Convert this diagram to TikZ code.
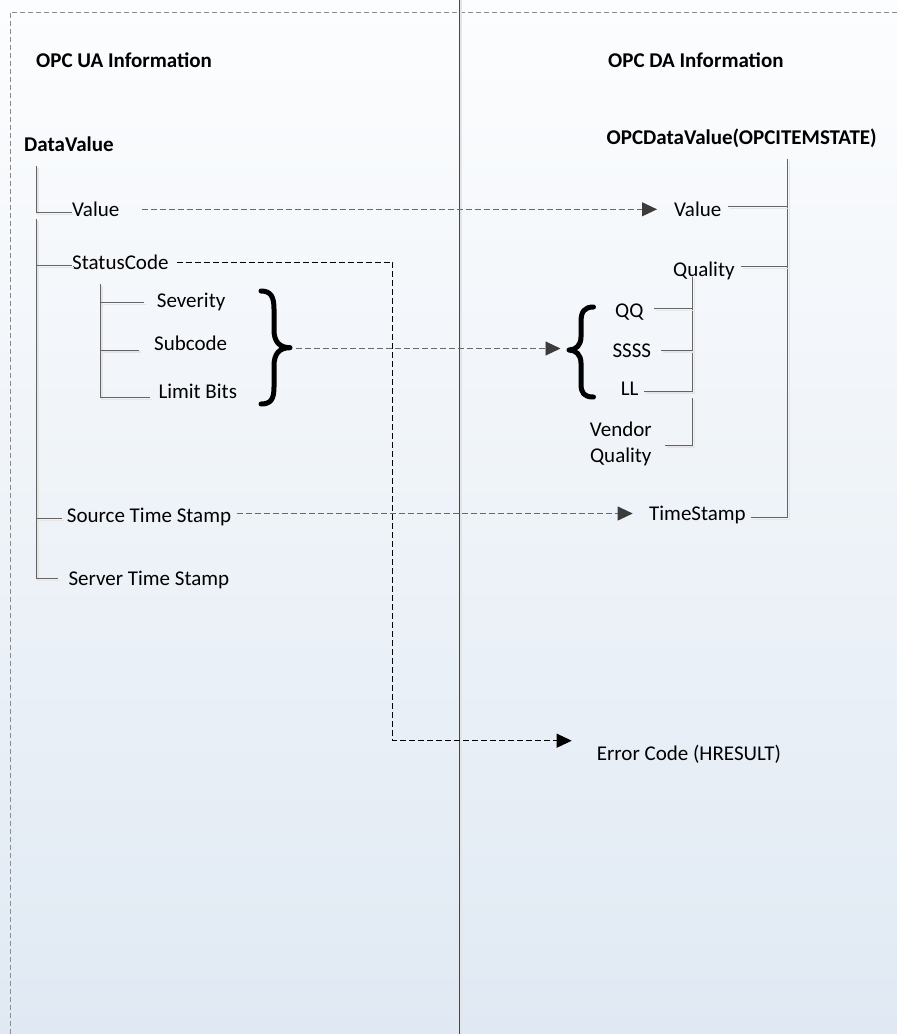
\documentclass[tikz,border=0pt]{standalone}
\usepackage{fontspec}
\setmainfont{Carlito}
\usetikzlibrary{arrows.meta}
\definecolor{bgtop}{RGB}{252,253,254}
\definecolor{bgbot}{RGB}{224,233,243}
\definecolor{treegray}{RGB}{100,100,100}
\definecolor{dashgray}{RGB}{105,105,105}
\definecolor{tipgray}{RGB}{60,60,60}
\begin{document}
\begin{tikzpicture}[x=1pt,y=-1pt,
  txt/.style={anchor=base west, inner sep=0pt, font=\fontsize{21}{25.3}\selectfont},
  btxt/.style={anchor=base west, inner sep=0pt, font=\fontsize{21}{25.3}\selectfont\bfseries},
  treeline/.style={draw=treegray, line width=1pt,
     preaction={draw=black!10, line width=1.3pt, transform canvas={shift={(2pt,-2pt)}}}},
  flow/.style={draw=dashgray, line width=0.9pt, dash pattern=on 6pt off 3pt,
     -{Triangle[length=15pt,width=14pt,color=tipgray,fill=tipgray]}},
  flowblack/.style={draw=black, line width=0.9pt, dash pattern=on 6pt off 3pt,
     -{Triangle[length=15pt,width=14pt,color=black,fill=black]}},
  bracestyle/.style={draw=black, line width=5pt, line cap=round, line join=round},
  borderline/.style={draw=black!45, line width=0.8pt, dash pattern=on 5pt off 3pt},
  divider/.style={draw=black!72, line width=0.9pt,
     preaction={draw=black!10, line width=1.3pt, transform canvas={shift={(2pt,0pt)}}}}
]
\useasboundingbox (0,0) rectangle (897,1034);
\shade[top color=bgtop, bottom color=bgbot] (0,0) rectangle (897,1034);

% frame and divider
\coordinate (bdB) at (10,1034);
\coordinate (bdC) at (10,12);
\coordinate (bdR) at (897,12);
\draw[borderline] (bdB) -- (bdC) -- (bdR);
\coordinate (divT) at (459,0);
\coordinate (divB) at (459,1034);
\draw[divider] (divT) -- (divB);

% titles
\node[btxt] (uatitle) at (36,67.7) {OPC UA Information};
\node[btxt] (datitle) at (608,67.7) {OPC DA Information};
\node[btxt] (dv) at (24,151.5) {DataValue};
\node[btxt] (opcdv) at (606.5,144.5) {OPCDataValue(OPCITEMSTATE)};

% left texts
\node[txt] (val) at (72,216.5) {Value};
\node[txt] (sc) at (72,269.5) {StatusCode};
\node[txt] (sev) at (156.7,307.5) {Severity};
\node[txt] (sub) at (154,350.5) {Subcode};
\node[txt] (lim) at (158.3,398) {Limit Bits};
\node[txt] (src) at (66.7,522) {Source Time Stamp};
\node[txt] (srv) at (68.3,585) {Server Time Stamp};

% right texts
\node[txt] (rval) at (674,216.5) {Value};
\node[txt] (qual) at (673,276) {Quality};
\node[txt] (qq) at (615,317.5) {QQ};
\node[txt] (ssss) at (612.3,357) {SSSS};
\node[txt] (ll) at (620.7,395.5) {LL};
\node[anchor=center, inner sep=0pt, align=center, font=\fontsize{21}{25.3}\selectfont] (vq) at (620.8,443.8) {Vendor\\Quality};
\node[txt] (ts) at (649,520.7) {TimeStamp};
\node[txt] (err) at (596.7,760) {Error Code (HRESULT)};

% left tree
\coordinate (l1T) at (36,165.7);
\coordinate (valL) at (71.5,212.3);
\draw[treeline] (l1T) |- (valL);
\coordinate (l2T) at (36,219);
\coordinate (srvL) at (58.3,578.3);
\draw[treeline] (l2T) |- (srvL);
\coordinate (scL) at (71.5,265.7);
\coordinate (scJ) at (36,265.7);
\draw[treeline] (scJ) -- (scL);
\coordinate (srcL) at (61.7,518.3);
\coordinate (srcJ) at (36,518.3);
\draw[treeline] (srcJ) -- (srcL);

% status sub-tree
\coordinate (s1T) at (100,284);
\coordinate (limL) at (150,397.3);
\draw[treeline] (s1T) |- (limL);
\coordinate (sevL) at (144,302.3);
\coordinate (sevJ) at (100,302.3);
\draw[treeline] (sevJ) -- (sevL);
\coordinate (subL) at (139.3,350);
\coordinate (subJ) at (100,350);
\draw[treeline] (subJ) -- (subL);

% right tree
\coordinate (r1T) at (787.7,159.3);
\coordinate (tsR) at (750.7,517.3);
\draw[treeline] (r1T) |- (tsR);
\coordinate (rvalR) at (728.3,206.7);
\coordinate (rvalJ) at (787.7,206.7);
\draw[treeline] (rvalJ) -- (rvalR);
\coordinate (qualR) at (741,266.7);
\coordinate (qualJ) at (787.7,266.7);
\draw[treeline] (qualJ) -- (qualR);
\coordinate (q1T) at (692.3,276.7);
\coordinate (llR) at (644.3,391);
\draw[treeline] (q1T) |- (llR);
\coordinate (qqR) at (654.3,308.3);
\coordinate (qqJ) at (692.3,308.3);
\draw[treeline] (qqJ) -- (qqR);
\coordinate (ssssR) at (660.7,350);
\coordinate (ssssJ) at (692.3,350);
\draw[treeline] (ssssJ) -- (ssssR);
\coordinate (vqT) at (692.3,398.3);
\coordinate (vqR) at (665,445);
\draw[treeline] (vqT) |- (vqR);

% braces
\coordinate (rbTip) at (290,347.7);
\draw[bracestyle] (261,291) .. controls (271,291) and (274,297) .. (274,309)
  -- (274,330) .. controls (274,341) and (279,347.7) .. (rbTip)
  .. controls (279,347.7) and (274,354) .. (274,366)
  -- (274,387) .. controls (274,399) and (271,404) .. (261,404);
\coordinate (lbTip) at (569,350);
\draw[bracestyle] (593.5,307) .. controls (584,307) and (581,312) .. (581,322)
  -- (581,337) .. controls (581,345) and (576,350) .. (lbTip)
  .. controls (576,350) and (581,355) .. (581,363)
  -- (581,384) .. controls (581,393) and (584,397) .. (593.5,397);

% flows
\coordinate (valS) at (141.7,209.3);
\coordinate (valE) at (657,209.3);
\draw[flow] (valS) -- (valE);
\coordinate (brS) at (296,348.5);
\coordinate (brE) at (560.5,348.5);
\draw[flow] (brS) -- (brE);
\coordinate (srcS) at (236.7,513.5);
\coordinate (srcE) at (632.7,513.5);
\draw[flow] (srcS) -- (srcE);
\coordinate (scS) at (176.7,262.3);
\coordinate (scK) at (392.7,262.3);
\coordinate (scK2) at (392.7,740.7);
\coordinate (scE) at (571.7,740.7);
\draw[flowblack] (scS) -- (scK) -- (scK2) -- (scE);
\end{tikzpicture}
\end{document}
